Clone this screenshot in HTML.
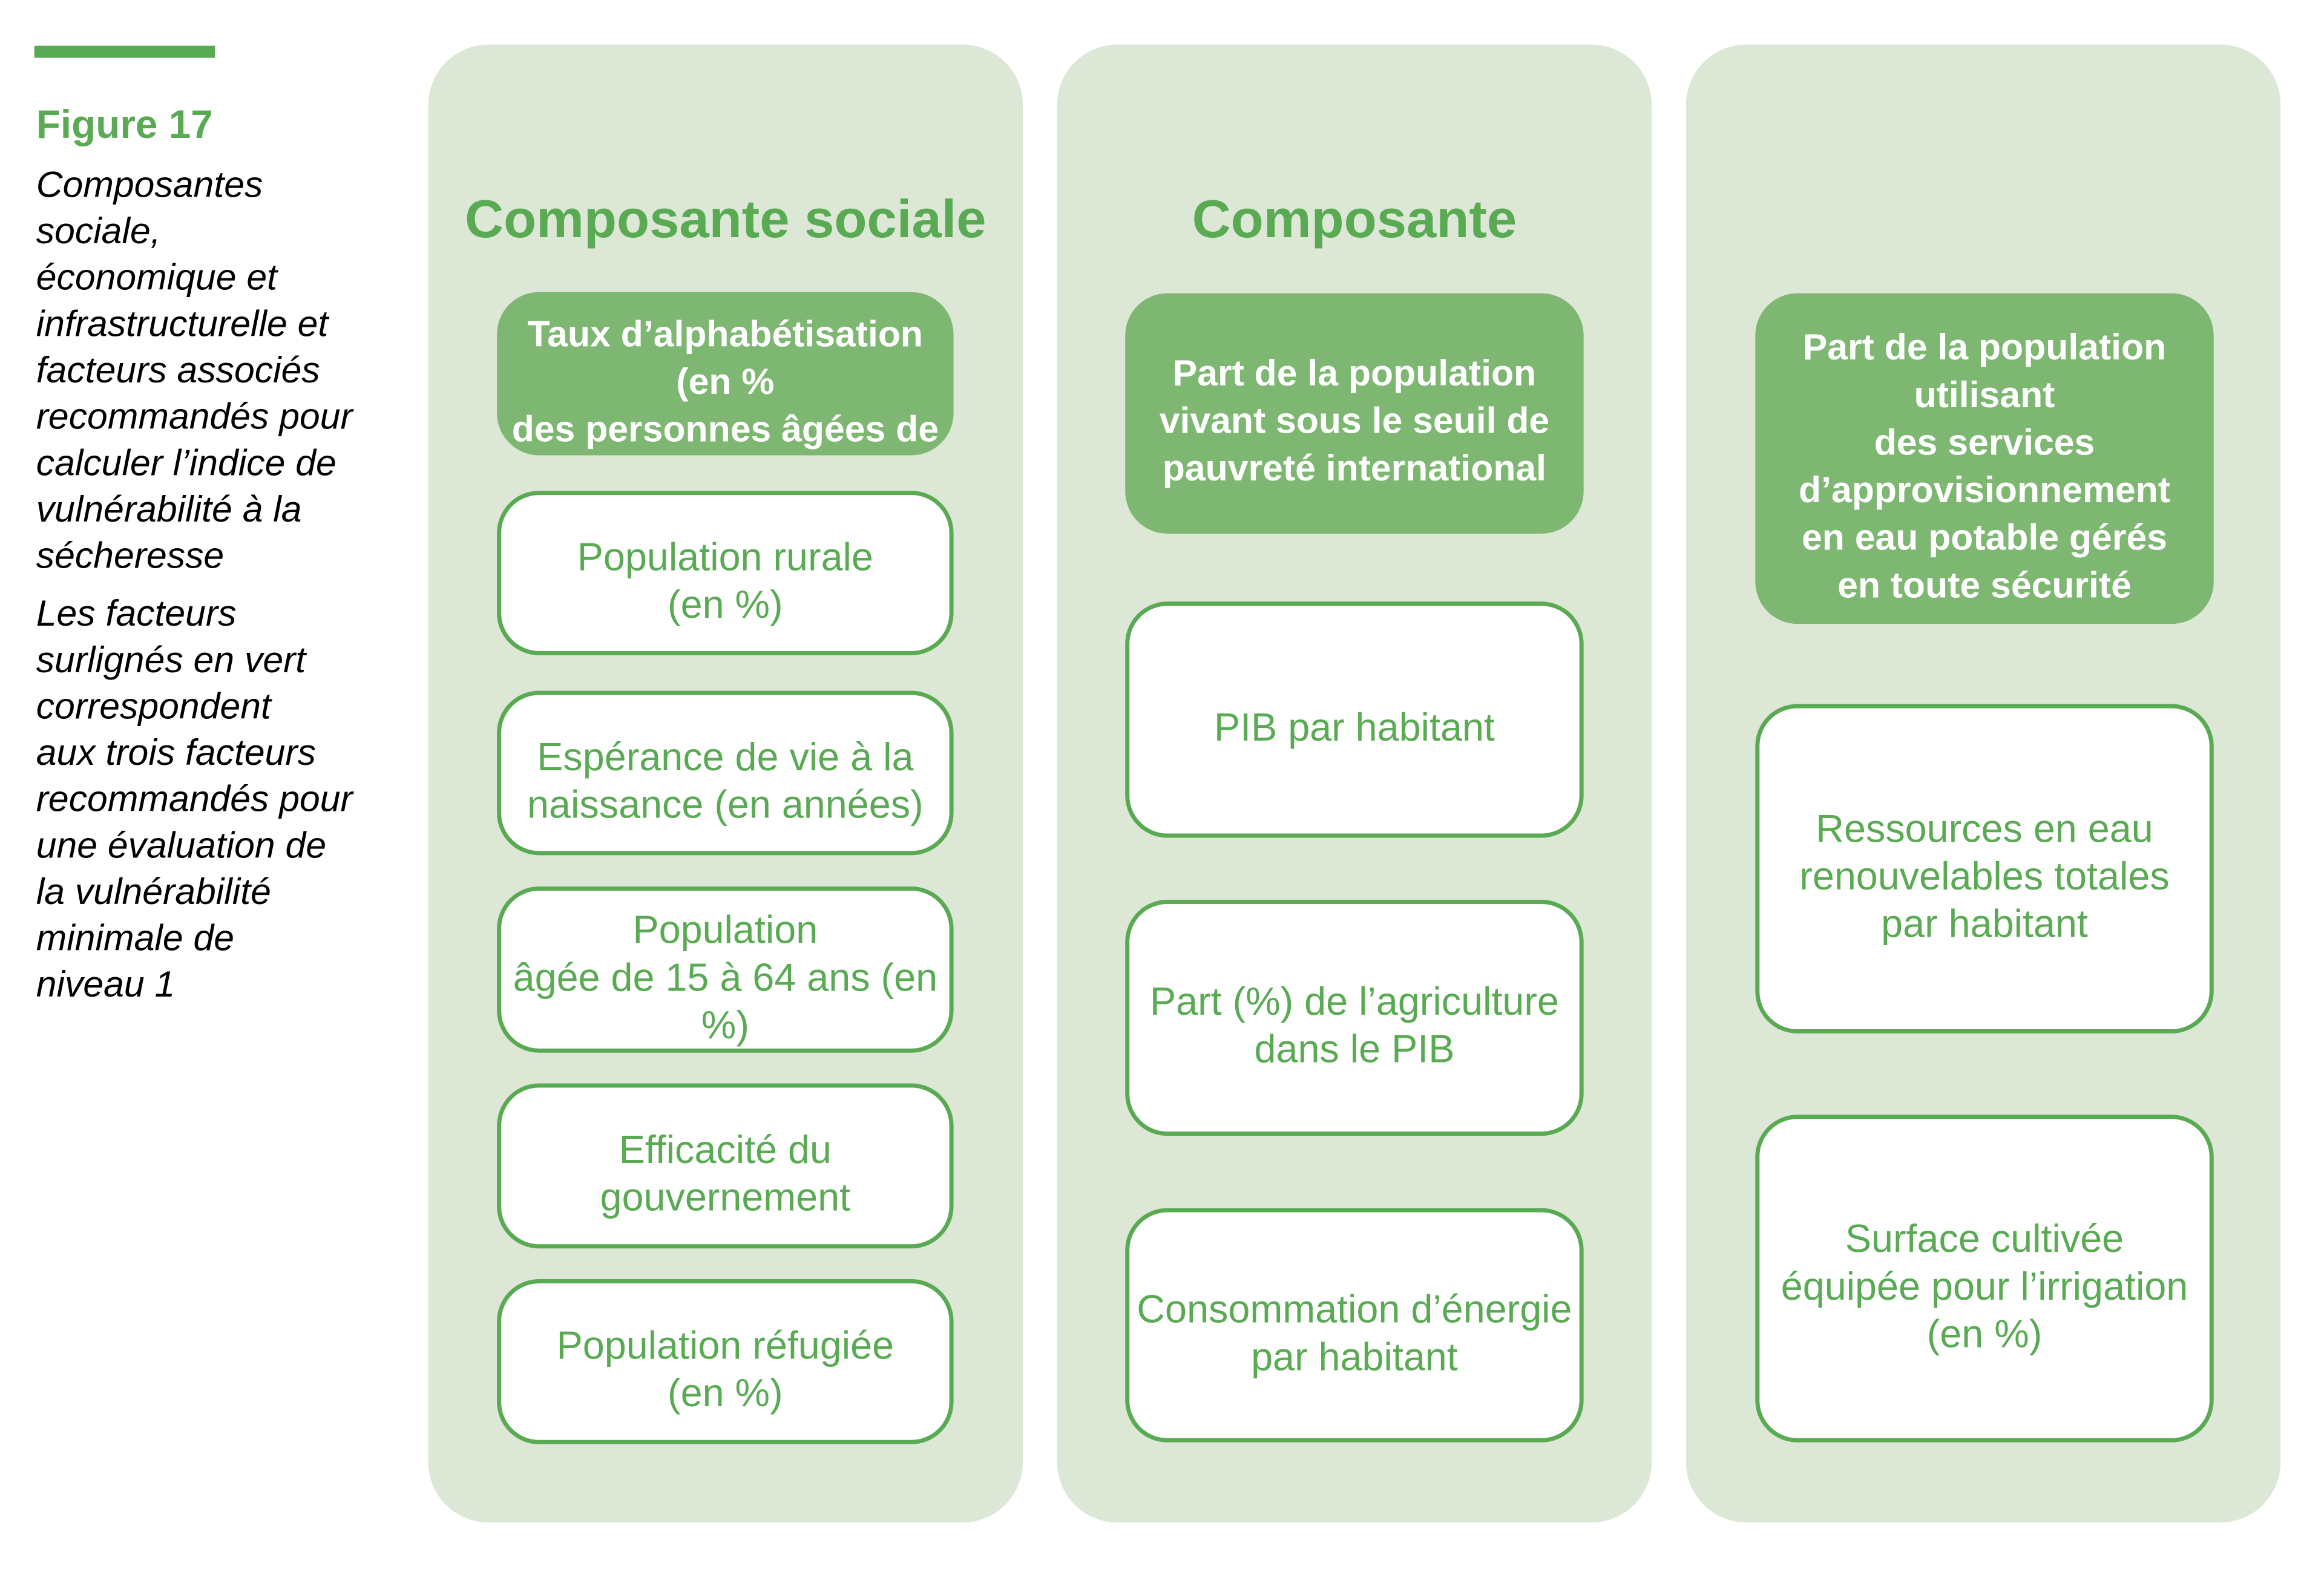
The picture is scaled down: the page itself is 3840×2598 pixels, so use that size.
<!DOCTYPE html>
<html><head><meta charset="utf-8"><style>
*{margin:0;padding:0;box-sizing:border-box}
body{width:3840px;height:2595px;background:#fff;position:relative;overflow:hidden;font-family:"Liberation Sans",Arial,sans-serif}
#w{position:absolute;left:0;top:0;width:3860px;height:2610px;transform:scale(0.9953);transform-origin:0 0}
.bar{position:absolute;left:57px;top:76px;width:300px;height:20px;background:#59aa53}
.fig{position:absolute;left:60px;top:168px;font-size:66px;font-weight:bold;color:#59aa53}
.cap{position:absolute;left:60px;font-size:61px;font-style:italic;line-height:77px;color:#000;white-space:nowrap}
.panel{position:absolute;top:74px;height:2454px;width:987px;background:#dce7d6;border-radius:100px}
.h{position:absolute;top:312px;font-size:89px;font-weight:bold;color:#59aa53;text-align:center;white-space:nowrap}
.f{position:absolute;background:#7db772;border-radius:70px;color:#fff;font-weight:bold;font-size:61px;line-height:79px;text-align:center;display:flex;align-items:center;justify-content:center;overflow:hidden;white-space:nowrap;padding-top:24px}
.o{position:absolute;background:#fff;border:7px solid #59aa53;border-radius:70px;color:#59aa53;font-size:65px;line-height:79px;text-align:center;display:flex;align-items:center;justify-content:center;white-space:nowrap;padding-top:24px}
</style></head><body><div id="w">
<div class="bar"></div>
<div class="fig">Figure 17</div>
<div class="cap" style="top:268px">Composantes<br>sociale,<br>économique et<br>infrastructurelle et<br>facteurs associés<br>recommandés pour<br>calculer l’indice de<br>vulnérabilité à la<br>sécheresse</div>
<div class="cap" style="top:980px">Les facteurs<br>surlignés en vert<br>correspondent<br>aux trois facteurs<br>recommandés pour<br>une évaluation de<br>la vulnérabilité<br>minimale de<br>niveau 1</div>

<div class="panel" style="left:711px"></div>
<div class="panel" style="left:1755px"></div>
<div class="panel" style="left:2799px"></div>

<div class="h" style="left:711px;width:987px">Composante sociale</div>
<div class="h" style="left:1755px;width:987px">Composante</div>

<div class="f" style="left:825px;top:485px;width:758px;height:271px;align-items:flex-start;padding-top:30px">Taux d’alphabétisation<br>(en %<br>des personnes âgées de</div>
<div class="f" style="left:1868px;top:487px;width:761px;height:399px">Part de la population<br>vivant sous le seuil de<br>pauvreté international</div>
<div class="f" style="left:2914px;top:487px;width:761px;height:549px">Part de la population<br>utilisant<br>des services<br>d’approvisionnement<br>en eau potable gérés<br>en toute sécurité</div>

<div class="o" style="left:825px;top:815px;width:758px;height:273px">Population rurale<br>(en %)</div>
<div class="o" style="left:825px;top:1147px;width:758px;height:273px">Espérance de vie à la<br>naissance (en années)</div>
<div class="o" style="left:825px;top:1472px;width:758px;height:276px">Population<br>âgée de 15 à 64 ans (en<br>%)</div>
<div class="o" style="left:825px;top:1799px;width:758px;height:274px">Efficacité du<br>gouvernement</div>
<div class="o" style="left:825px;top:2124px;width:758px;height:274px">Population réfugiée<br>(en %)</div>

<div class="o" style="left:1868px;top:999px;width:761px;height:392px">PIB par habitant</div>
<div class="o" style="left:1868px;top:1494px;width:761px;height:392px">Part (%) de l’agriculture<br>dans le PIB</div>
<div class="o" style="left:1868px;top:2006px;width:761px;height:389px">Consommation d’énergie<br>par habitant</div>

<div class="o" style="left:2914px;top:1169px;width:761px;height:547px">Ressources en eau<br>renouvelables totales<br>par habitant</div>
<div class="o" style="left:2914px;top:1851px;width:761px;height:544px">Surface cultivée<br>équipée pour l’irrigation<br>(en %)</div>
</div></body></html>
